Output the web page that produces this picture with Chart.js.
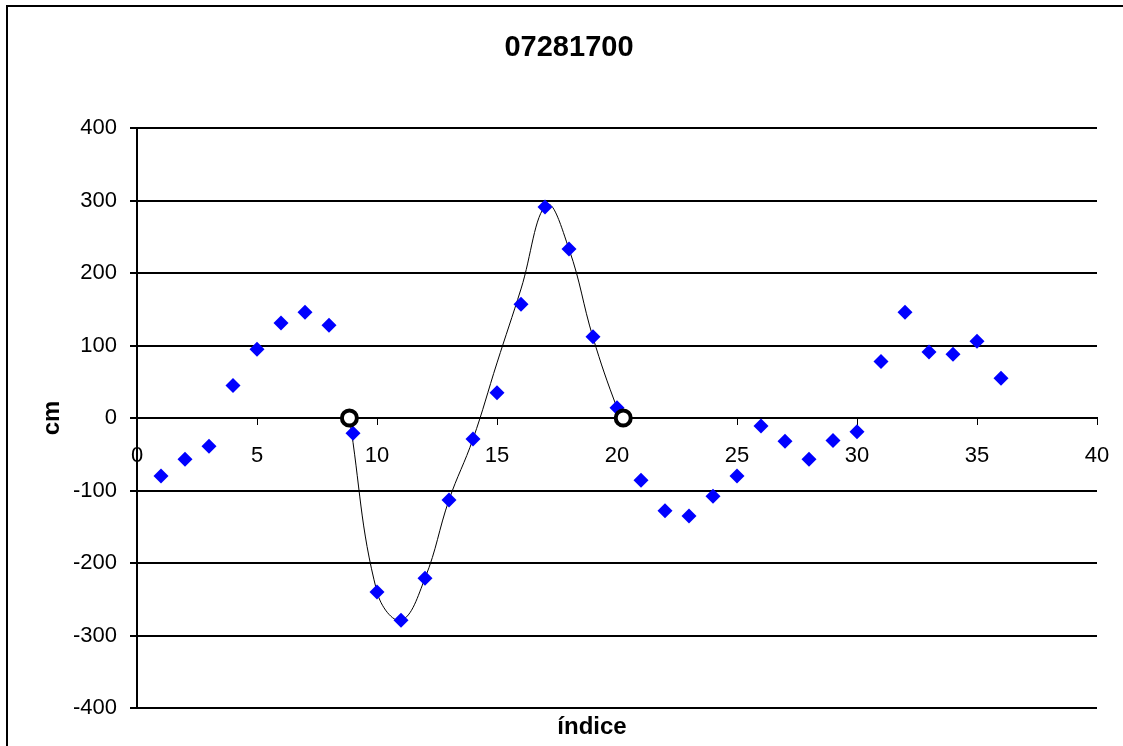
<!DOCTYPE html>
<html>
<head>
<meta charset="utf-8">
<script src="https://cdn.jsdelivr.net/npm/chart.js@4/dist/chart.umd.min.js"></script>
<style>
  html, body { margin: 0; padding: 0; background: #fff; }
  #wrap { width: 1123px; height: 746px; }
</style>
</head>
<body>
<div id="wrap"><canvas id="chart" width="1123" height="746"></canvas></div>
<script>
// measured values, index 1..36
const indices = [1, 2, 3, 4, 5, 6, 7, 8, 9, 10, 11, 12, 13, 14, 15, 16, 17, 18,
  19, 20, 21, 22, 23, 24, 25, 26, 27, 28, 29, 30, 31, 32, 33, 34, 35, 36];
const cmValues = [-80, -57, -39, 45, 95, 131, 146, 128, -21, -240, -279, -221, -113, -29, 35, 157, 291, 233,
  112, 14, -86, -128, -135, -108, -80, -11, -32, -57, -31, -19, 78, 146, 91, 88, 106, 55];

// zero crossings (open circles)
const crossX = [8.85, 20.26];
const crossY = [0, 0];

// fitted wave curve
const fitX = [8.85, 10, 11, 12, 13, 14, 15, 16, 17.07, 18, 19, 20, 20.26];
const fitY = [0, -240, -279, -221, -113, -29, 76, 178, 294, 233, 111, 14, 0];

const titleText = '07281700';
const xTitle = 'índice';
const yTitle = 'cm';

const toPoints = (xs, ys) => xs.map((x, i) => ({ x: x, y: ys[i] }));

Chart.defaults.font.family = "'Liberation Sans', Arial, sans-serif";
Chart.defaults.color = '#000';

// frame, title and axis titles
const decorations = {
  id: 'decorations',
  beforeDraw(chart) {
    const ctx = chart.ctx;
    ctx.save();
    ctx.fillStyle = '#fff';
    ctx.fillRect(0, 0, chart.width, chart.height);
    ctx.strokeStyle = '#000';
    ctx.lineWidth = 2;
    ctx.beginPath();
    ctx.moveTo(7, chart.height + 5);
    ctx.lineTo(7, 6);
    ctx.lineTo(chart.width + 5, 6);
    ctx.stroke();
    ctx.restore();
  },
  afterDraw(chart) {
    const ctx = chart.ctx;
    ctx.save();
    ctx.fillStyle = '#000';
    ctx.textAlign = 'center';
    ctx.textBaseline = 'middle';
    ctx.font = "bold 29px 'Liberation Sans', Arial, sans-serif";
    ctx.fillText(titleText, 569, 48);
    ctx.font = "bold 24px 'Liberation Sans', Arial, sans-serif";
    ctx.fillText(xTitle, 592, 727);
    ctx.translate(52, 418);
    ctx.rotate(-Math.PI / 2);
    ctx.fillText(yTitle, 0, 0);
    ctx.restore();
  }
};

new Chart(document.getElementById('chart'), {
  type: 'scatter',
  data: {
    datasets: [
      {
        label: 'cruces',
        data: toPoints(crossX, crossY),
        pointStyle: 'circle',
        pointRadius: 7.5,
        pointBackgroundColor: '#fff',
        pointBorderColor: '#000',
        pointBorderWidth: 4,
        order: 0
      },
      {
        label: 'cm',
        data: toPoints(indices, cmValues),
        pointStyle: 'rectRot',
        pointRadius: 7.5,
        pointBackgroundColor: '#0000ff',
        pointBorderWidth: 0,
        order: 1
      },
      {
        label: 'ajuste',
        data: toPoints(fitX, fitY),
        showLine: true,
        borderColor: '#000',
        borderWidth: 1,
        tension: 0.4,
        pointRadius: 0,
        order: 2
      }
    ]
  },
  options: {
    responsive: false,
    animation: false,
    layout: { padding: { top: 128, right: 26, bottom: 38, left: 0 } },
    plugins: {
      legend: { display: false },
      tooltip: { enabled: false }
    },
    scales: {
      x: {
        type: 'linear',
        position: { y: 0 },
        min: 0,
        max: 40,
        border: { color: '#000', width: 2 },
        grid: { drawOnChartArea: false, drawTicks: true, tickLength: 6, color: '#000', lineWidth: 1 },
        ticks: { stepSize: 5, padding: 19, font: { size: 22 }, color: '#000', maxRotation: 0 },
        afterFit(scale) {
          // keep the "40" label from squeezing the plot area
          scale.paddingLeft = 0;
          scale.paddingRight = 0;
        }
      },
      y: {
        type: 'linear',
        min: -400,
        max: 400,
        border: { color: '#000', width: 2 },
        grid: { color: '#000', lineWidth: 2, tickLength: 7 },
        ticks: { stepSize: 100, padding: 13, font: { size: 22 }, color: '#000' },
        afterFit(scale) { scale.width = 137; }
      }
    }
  },
  plugins: [decorations]
});
</script>
</body>
</html>
